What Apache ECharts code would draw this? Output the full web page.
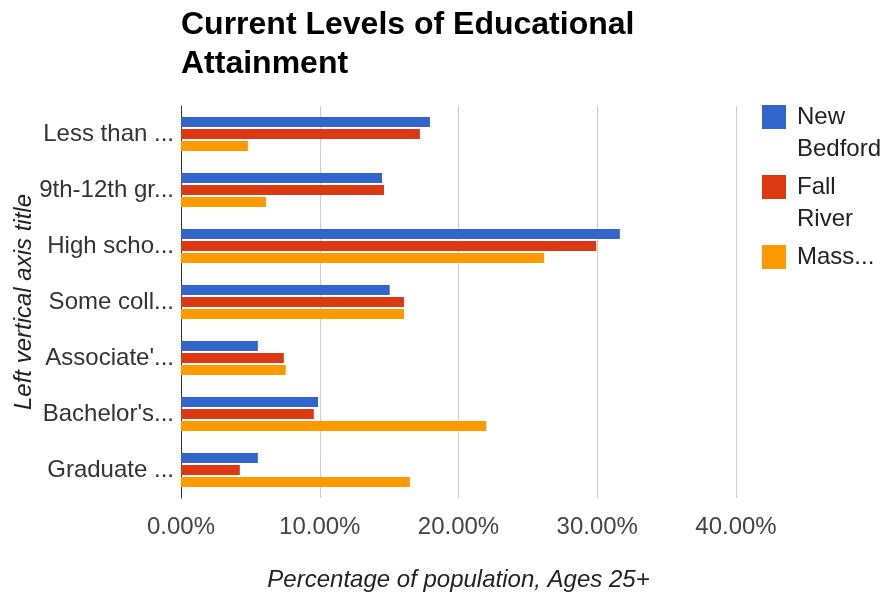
<!DOCTYPE html>
<html>
<head>
<meta charset="utf-8">
<script src="https://cdn.jsdelivr.net/npm/echarts@6/dist/echarts.min.js"></script>
<style>
  html, body { margin: 0; padding: 0; background: #fff; }
  #chart { width: 883px; height: 595px; }
</style>
</head>
<body>
<div id="chart"></div>
<script>
// ---- data ----
var categories = ['Less than ...', '9th-12th gr...', 'High scho...', 'Some coll...', "Associate'...", "Bachelor's...", 'Graduate ...'];
var seriesNames = ['New Bedford', 'Fall River', 'Massachusetts'];
var legendLabels = ['New\nBedford', 'Fall\nRiver', 'Mass...'];
var newBedford = [17.94, 14.49, 31.63, 15.04, 5.54, 9.88, 5.54];
var fallRiver = [17.22, 14.63, 29.93, 16.07, 7.41, 9.57, 4.24];
var massachusetts = [4.82, 6.12, 26.17, 16.07, 7.55, 22.0, 16.5];
var xTicks = [0, 10, 20, 30, 40];
var colors = ['#3366cc', '#dc3912', '#ff9900'];

var FONT = '"Liberation Sans", Arial, sans-serif';
var chart = echarts.init(document.getElementById('chart'), null, { renderer: 'canvas' });

var seriesData = [newBedford, fallRiver, massachusetts];
var series = seriesNames.map(function (name, i) {
  return {
    name: name,
    type: 'bar',
    data: seriesData[i],
    barWidth: 10,
    barGap: '20%',
    itemStyle: { color: colors[i] },
    animation: false
  };
});

// legend text: a blank first line so the swatch lines up with the first text line
function legendText(name) {
  var lines = legendLabels[seriesNames.indexOf(name)].split('\n');
  while (lines.length < 2) lines.push('\u00a0');
  lines.unshift('\u00a0');
  return lines.map(function (l) { return '{t|' + l + '}'; }).join('\n');
}

chart.setOption({
  animation: false,
  color: colors,
  title: {
    text: 'Current Levels of Educational\nAttainment',
    left: 181,
    top: 5,
    padding: 0,
    textStyle: { fontFamily: FONT, fontSize: 32, fontWeight: 'bold', lineHeight: 39.4, color: '#000' }
  },
  legend: {
    orient: 'vertical',
    left: 762,
    top: 69,
    padding: 0,
    itemWidth: 24,
    itemHeight: 24,
    itemGap: -26,
    icon: 'rect',
    data: seriesNames,
    formatter: legendText,
    textStyle: {
      fontFamily: FONT, fontSize: 24, lineHeight: 32, color: '#222',
      rich: { t: { fontFamily: FONT, fontSize: 24, lineHeight: 32, color: '#222', padding: [0, 0, 0, 6] } }
    }
  },
  grid: { left: 181, right: 147, top: 106, bottom: 97, containLabel: false, outerBoundsMode: 'none' },
  xAxis: {
    type: 'value',
    min: xTicks[0],
    max: xTicks[xTicks.length - 1],
    interval: 10,
    name: 'Percentage of population, Ages 25+',
    nameLocation: 'middle',
    nameGap: 70,
    nameMoveOverlap: false,
    nameTextStyle: { fontFamily: FONT, fontSize: 24, fontStyle: 'italic', color: '#222' },
    axisLine: { show: false },
    axisTick: { show: false },
    axisLabel: {
      margin: 17,
      fontFamily: FONT, fontSize: 24, lineHeight: 24, color: '#444',
      formatter: function (v) { return v.toFixed(2) + '%'; }
    },
    splitLine: { show: true, lineStyle: { color: '#cccccc', width: 1 } }
  },
  yAxis: {
    type: 'category',
    inverse: true,
    data: categories,
    name: 'Left vertical axis title',
    nameLocation: 'middle',
    nameGap: 145,
    nameRotate: 90,
    nameMoveOverlap: false,
    nameTextStyle: { fontFamily: FONT, fontSize: 24, fontStyle: 'italic', color: '#222' },
    axisLine: { show: true, lineStyle: { color: '#333', width: 1 } },
    axisTick: { show: false },
    axisLabel: { margin: 7, fontFamily: FONT, fontSize: 24, lineHeight: 28, color: '#333' },
    splitLine: { show: false }
  },
  series: series
});
</script>
</body>
</html>
